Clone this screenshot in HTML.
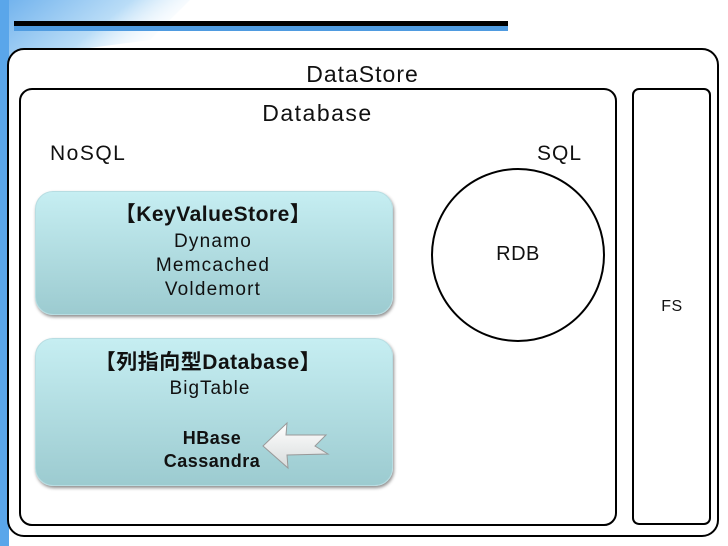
<!DOCTYPE html>
<html><head><meta charset="utf-8"><style>
body{margin:0;width:728px;height:546px;overflow:hidden;background:#fff;position:relative;font-family:"Liberation Sans","Noto Sans CJK JP",sans-serif;}
.a{position:absolute}
.t{position:absolute;color:#111;white-space:nowrap;text-align:center;letter-spacing:0.5px}
.g{position:absolute;border-radius:18px;background:linear-gradient(#c6eef2,#9ccbd0);box-shadow:1px 2px 3px rgba(0,0,0,.45);border:1px solid #b7dde2}
</style></head><body>
<svg class="a" style="left:0;top:0" width="728" height="546">
<defs><linearGradient id="bg" x1="0" y1="0" x2="1" y2="0.4"><stop offset="0" stop-color="#4a9de8"/><stop offset="0.6" stop-color="#a8d4f5"/><stop offset="1" stop-color="#fff" stop-opacity="0"/></linearGradient></defs>
<polygon points="0,0 190,0 150,40 0,60" fill="url(#bg)" opacity="0.8"/>
<rect x="0" y="0" width="9" height="546" fill="#5aa6ea"/>
<rect x="14" y="21" width="494" height="5" fill="#000"/>
<rect x="14" y="26" width="494" height="5" fill="#4f9be0"/>
<rect x="8" y="49" width="710" height="487" rx="16" fill="#fff" stroke="#000" stroke-width="2"/>
<rect x="20" y="89" width="596" height="436" rx="12" fill="#fff" stroke="#000" stroke-width="2"/>
<rect x="633" y="89" width="77" height="435" rx="6" fill="#fff" stroke="#000" stroke-width="2"/>
<circle cx="518" cy="255" r="86" fill="#fff" stroke="#000" stroke-width="2"/>
</svg>
<div class="t" style="left:250px;top:61px;width:225px;font-size:23px;letter-spacing:1px">DataStore</div>
<div class="t" style="left:200px;top:100px;width:235px;font-size:23px;letter-spacing:1.5px">Database</div>
<div class="t" style="left:50px;top:142px;font-size:21px;letter-spacing:1.5px">NoSQL</div>
<div class="t" style="left:537px;top:142px;font-size:21px;letter-spacing:1px">SQL</div>
<div class="t" style="left:470px;top:243px;width:96px;font-size:20px">RDB</div>
<div class="t" style="left:640px;top:298px;width:64px;font-size:16px">FS</div>
<div class="g" style="left:35px;top:191px;width:356px;height:122px"></div>
<div class="t" style="left:35px;top:202px;width:356px;font-size:21px;line-height:26px"><b>【KeyValueStore】</b></div>
<div class="t" style="left:35px;top:230px;width:356px;font-size:19px;line-height:24px;letter-spacing:1.2px">Dynamo<br>Memcached<br>Voldemort</div>
<div class="g" style="left:35px;top:338px;width:356px;height:146px"></div>
<div class="t" style="left:30px;top:350px;width:356px;font-size:21px;line-height:26px"><b>【列指向型Database】</b></div>
<div class="t" style="left:120px;top:377px;width:180px;font-size:19px;line-height:24px;letter-spacing:1px">BigTable</div>
<div class="t" style="left:150px;top:427px;width:124px;font-size:18px;line-height:23px"><b>HBase<br>Cassandra</b></div>
<svg class="a" style="left:0;top:0" width="728" height="546">
<defs><linearGradient id="ar" x1="0" y1="0" x2="0" y2="1"><stop offset="0" stop-color="#fff"/><stop offset="1" stop-color="#d8dcdc"/></linearGradient></defs>
<polygon points="263,446 287,423 286,435 326,435 315,446 328,454 287,455 288,468" fill="url(#ar)" stroke="#999" stroke-width="1"/>
</svg>
</body></html>
